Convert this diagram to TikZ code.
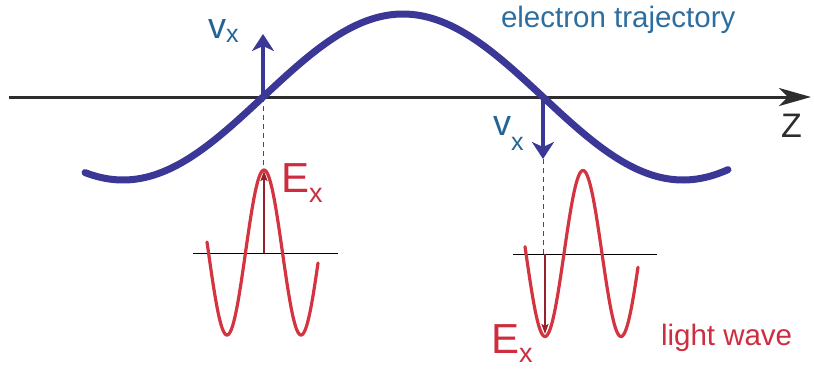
\documentclass[tikz,border=0pt]{standalone}
\usepackage{fontspec}
\setmainfont{Liberation Sans}
\usetikzlibrary{arrows.meta}
\definecolor{traj}{RGB}{58,55,150}
\definecolor{vtext}{RGB}{35,100,150}
\definecolor{ttext}{RGB}{45,110,160}
\definecolor{wave}{RGB}{212,52,64}
\definecolor{earrow}{RGB}{150,32,44}
\definecolor{etext}{RGB}{205,45,62}
\definecolor{axisc}{RGB}{45,45,45}
\tikzset{
  trajline/.style={traj,line width=7pt,line cap=round},
  waveline/.style={wave,line width=3.2pt,line cap=round},
  varrow/.style={traj,line width=4pt,-{Stealth[length=17pt,width=22pt,inset=5pt]}},
  earrowst/.style={earrow,line width=2.5pt,-{Stealth[length=10pt,width=7pt,inset=2pt]}},
  dashline/.style={black!70,line width=0.9pt,dash pattern=on 5pt off 4pt},
  baseline0/.style={black,line width=1pt},
  lbl/.style={anchor=base west,inner sep=0pt,outer sep=0pt},
  vlab/.style={lbl,vtext,font=\fontsize{36}{36}\selectfont},
  elab/.style={lbl,etext,font=\fontsize{42}{42}\selectfont},
}
\begin{document}
\begin{tikzpicture}[x=1pt,y=-1pt]
\useasboundingbox (0,0) rectangle (814,368);
% axis
\coordinate (ax0) at (9,97);
\coordinate (ax1) at (811,97);
\draw[axisc,line width=3pt,-{Stealth[length=32pt,width=18pt,inset=9pt]}] (ax0) -- (ax1);
\node[lbl,axisc,font=\fontsize{34}{34}\selectfont] (zlab) at (781,137) {Z};
% electron trajectory
\draw[trajline] plot[domain=85:728,samples=160,smooth] (\x,{97-83*sin((\x-263)/560*360)});
\node[lbl,ttext,font=\fontsize{29.5}{29.5}\selectfont] (tlab) at (501,27) {electron trajectory};
% crossing points
\coordinate (c1) at (263,97);
\coordinate (c2) at (543,97);
\coordinate (v1) at (263,34);
\coordinate (v2) at (543,159);
\draw[dashline] (c1) -- (263,166);
\draw[dashline] (v2) -- (543,254);
\draw[varrow] (c1) -- (v1);
\draw[varrow] (c2) -- (v2);
\node[vlab] (vx1) at (208,38) {v\raisebox{-4pt}{\fontsize{25}{25}\selectfont x}};
\node[vlab] (vx2) at (493,135) {v\raisebox{-15pt}{\fontsize{25}{25}\selectfont x}};
% left light wave
\coordinate (b1l) at (193,253);
\coordinate (b1r) at (338,253);
\draw[baseline0] (b1l) -- (b1r);
\draw[waveline] plot[domain=207:318,samples=120,smooth] (\x,{252.5-82.5*cos((\x-264)/74*360)});
\coordinate (e1s) at (264,253);
\coordinate (e1t) at (264,171);
\draw[earrowst] (e1s) -- (e1t);
\node[elab] (ex1) at (281,192) {E\raisebox{-10pt}{\fontsize{27}{27}\selectfont x}};
% right light wave
\coordinate (b2l) at (513,254);
\coordinate (b2r) at (657,254);
\draw[baseline0] (b2l) -- (b2r);
\draw[waveline] plot[domain=525:638,samples=120,smooth] (\x,{253.5+83*cos((\x-545)/76*360)});
\coordinate (e2s) at (545,254);
\coordinate (e2t) at (545,334);
\draw[earrowst] (e2s) -- (e2t);
\node[elab] (ex2) at (491,353) {E\raisebox{-9pt}{\fontsize{27}{27}\selectfont x}};
\node[lbl,etext,font=\fontsize{29.5}{29.5}\selectfont] (lw) at (661,345) {light wave};
\end{tikzpicture}
\end{document}
